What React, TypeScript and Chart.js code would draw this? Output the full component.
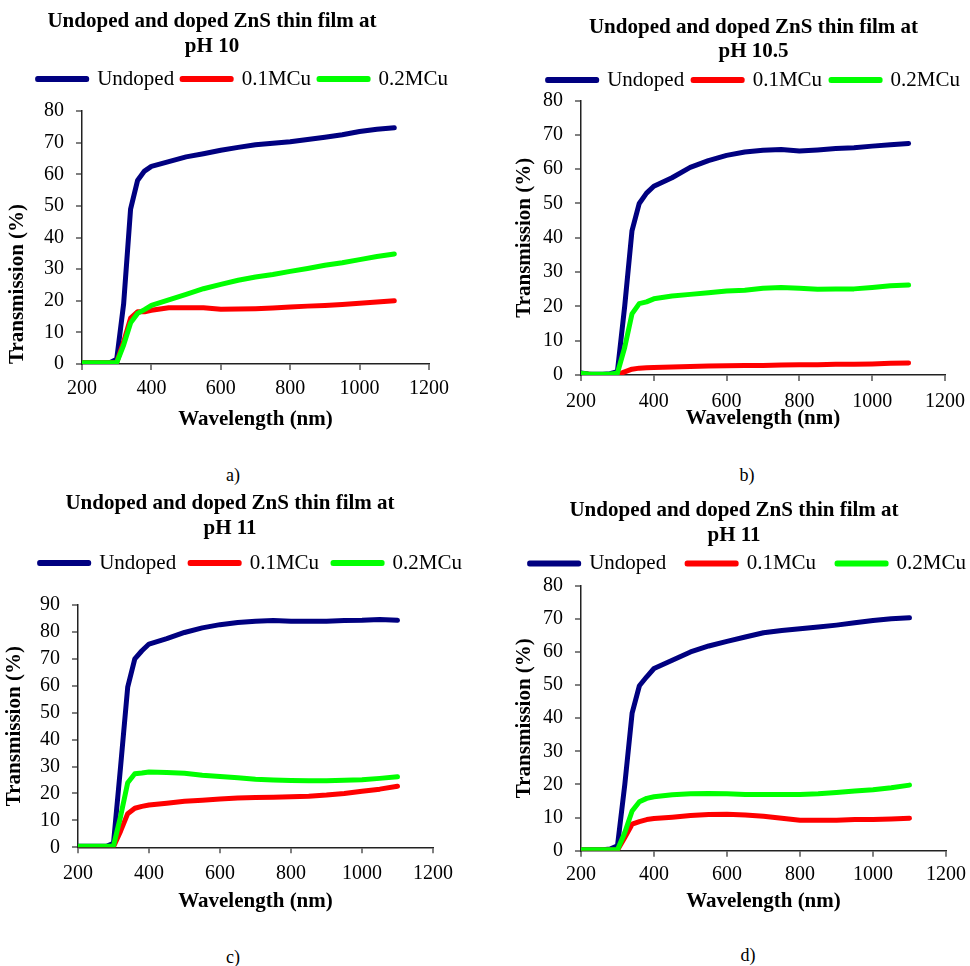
import React, { useEffect, useRef } from "react";
import { Chart, registerables } from "chart.js";

Chart.register(...registerables);

const FONT = "'Liberation Serif', 'Times New Roman', Times, serif";

// ---------------- data ----------------
const WAVELENGTH_NM = [200, 220, 240, 260, 280, 300, 320, 340, 360, 380, 400, 450, 500, 550, 600, 650, 700, 750, 800, 850, 900, 950, 1000, 1050, 1100];

const SERIES_NAMES = ["Undoped", "0.1MCu", "0.2MCu"];
const SERIES_COLORS = ["#000080", "#FF0000", "#00FF00"];

// pH 10
const UNDOPED_PH10 = [0.4, 0.4, 0.4, 0.4, 0.4, 1.5, 19, 49, 58, 61, 62.5, 64, 65.5, 66.5, 67.6, 68.5, 69.3, 69.8, 70.3, 71, 71.7, 72.5, 73.5, 74.2, 74.7];
const CU01_PH10 = [0.4, 0.4, 0.4, 0.4, 0.4, 0.5, 7, 14.5, 16.5, 16.5, 17, 17.8, 17.8, 17.8, 17.3, 17.4, 17.5, 17.7, 18, 18.3, 18.5, 18.8, 19.2, 19.6, 20];
const CU02_PH10 = [0.4, 0.4, 0.4, 0.4, 0.4, 0.4, 6, 13, 16, 17.2, 18.5, 20.3, 22, 23.8, 25.2, 26.5, 27.5, 28.3, 29.3, 30.2, 31.2, 32, 33, 34, 34.8];

// pH 10.5
const UNDOPED_PH105 = [0.6, 0.3, 0.2, 0.2, 0.4, 1.0, 20, 42, 50, 53, 55, 57.5, 60.5, 62.5, 64, 65, 65.5, 65.7, 65.3, 65.6, 66, 66.2, 66.7, 67.1, 67.5];
const CU01_PH105 = [0.3, 0.2, 0.1, 0.1, 0.1, 0.1, 0.9, 1.7, 2.0, 2.1, 2.2, 2.3, 2.5, 2.6, 2.7, 2.8, 2.8, 2.9, 3.0, 3.0, 3.1, 3.1, 3.2, 3.4, 3.5];
const CU02_PH105 = [0.5, 0.3, 0.2, 0.2, 0.3, 0.5, 8, 17.8, 20.8, 21.3, 22.2, 23, 23.5, 24, 24.5, 24.7, 25.3, 25.5, 25.3, 25, 25.1, 25.1, 25.5, 26, 26.2];

// pH 11 (c)
const UNDOPED_PH11C = [0.4, 0.4, 0.4, 0.4, 0.4, 1.5, 30, 59.5, 70, 73, 75.5, 77.5, 79.8, 81.5, 82.7, 83.5, 84, 84.2, 84, 84, 84, 84.2, 84.3, 84.6, 84.3];
const CU01_PH11C = [0.3, 0.3, 0.3, 0.3, 0.3, 0.2, 6, 12.5, 14.5, 15.2, 15.7, 16.4, 17.1, 17.5, 17.9, 18.3, 18.5, 18.6, 18.8, 19, 19.4, 20, 20.8, 21.6, 22.7];
const CU02_PH11C = [0.4, 0.4, 0.4, 0.4, 0.4, 0.5, 11.5, 24, 27.3, 27.6, 28, 27.8, 27.5, 26.8, 26.3, 25.8, 25.3, 25, 24.8, 24.7, 24.7, 24.9, 25.1, 25.6, 26.2];

// pH 11 (d)
const UNDOPED_PH11D = [0.3, 0.3, 0.3, 0.3, 0.5, 1.5, 20, 41.5, 49.8, 52.5, 55, 57.5, 60, 61.8, 63.2, 64.5, 65.8, 66.5, 67, 67.5, 68.1, 68.8, 69.5, 70, 70.3];
const CU01_PH11D = [0.2, 0.2, 0.2, 0.2, 0.2, 0.2, 4, 8, 8.8, 9.4, 9.7, 10.1, 10.6, 10.9, 11, 10.8, 10.4, 9.8, 9.2, 9.2, 9.2, 9.4, 9.4, 9.6, 9.8];
const CU02_PH11D = [0.3, 0.3, 0.3, 0.3, 0.3, 0.3, 5.5, 12, 14.8, 15.8, 16.3, 16.9, 17.2, 17.3, 17.2, 17, 17, 17, 17, 17.2, 17.6, 18, 18.4, 19, 19.8];

const PANEL_SERIES = [
  [UNDOPED_PH10, CU01_PH10, CU02_PH10],
  [UNDOPED_PH105, CU01_PH105, CU02_PH105],
  [UNDOPED_PH11C, CU01_PH11C, CU02_PH11C],
  [UNDOPED_PH11D, CU01_PH11D, CU02_PH11D],
];

const PANEL_TITLES = [
  ["Undoped and doped ZnS thin film at", "pH 10"],
  ["Undoped and doped ZnS thin film at", "pH 10.5"],
  ["Undoped and doped ZnS thin film at", "pH 11"],
  ["Undoped and doped ZnS thin film at", "pH 11"],
];
const PANEL_CAPTIONS = ["a)", "b)", "c)", "d)"];
const Y_MAX = [80, 80, 90, 80];
const Y_MIN = 0;
const Y_STEP = 10;
const X_MIN = 200;
const X_MAX = 1200;
const X_STEP = 200;
const X_AXIS_TITLE = "Wavelength (nm)";
const Y_AXIS_TITLE = "Transmission (%)";

// ---------------- layout (positions only) ----------------
type PanelLayout = {
  cx: number; cy: number; w: number; h: number; padL: number;
  yWidth: number; yTitlePad: number; yTitleAlign: "start" | "center" | "end";
  xPadRight: number; xHeight: number; xTickPad: number;
  titlePadTop: number; titlePadBottom: number; legendPad: number; spacer: number;
  capX: number; capY: number;
};

const LAYOUTS: PanelLayout[] = [
  { cx: -32, cy: 0, w: 488, h: 436, padL: 0, yWidth: 114, yTitlePad: 37.4, yTitleAlign: "start", xPadRight: 27, xHeight: 72, xTickPad: 7, titlePadTop: 9.7, titlePadBottom: 1.66, legendPad: 8, spacer: 11.5, capX: 233, capY: 475 },
  { cx: 505, cy: 0, w: 464, h: 435, padL: 33, yWidth: 43, yTitlePad: -25.6, yTitleAlign: "center", xPadRight: 24, xHeight: 60, xTickPad: 8.5, titlePadTop: 15, titlePadBottom: -3.64, legendPad: 9, spacer: 0, capX: 747, capY: 475 },
  { cx: -16, cy: 480, w: 492, h: 438, padL: 0, yWidth: 94, yTitlePad: 18.4, yTitleAlign: "center", xPadRight: 43, xHeight: 70.7, xTickPad: 8.2, titlePadTop: 11.7, titlePadBottom: -2.34, legendPad: 14, spacer: 21.5, capX: 233, capY: 957 },
  { cx: 481, cy: 480, w: 506, h: 438, padL: 0, yWidth: 100, yTitlePad: 31.4, yTitleAlign: "center", xPadRight: 41, xHeight: 67.3, xTickPad: 6.3, titlePadTop: 18.7, titlePadBottom: -15.84, legendPad: 21, spacer: 1.7, capX: 748, capY: 955 },
];

const plainNumber = (v: any) => String(v);

function Panel({ index }: { index: number }) {
  const ref = useRef<HTMLCanvasElement | null>(null);
  const L = LAYOUTS[index];

  useEffect(() => {
    if (!ref.current) return;
    const series = PANEL_SERIES[index];
    const datasets = series.map((vals, k) => ({
      label: SERIES_NAMES[k],
      data: WAVELENGTH_NM.map((x, i) => ({ x, y: vals[i] })),
      borderColor: SERIES_COLORS[k],
      backgroundColor: SERIES_COLORS[k],
      borderWidth: 5,
      pointRadius: 0,
      pointHoverRadius: 0,
      tension: 0,
      fill: false,
      borderCapStyle: "round" as const,
      borderJoinStyle: "round" as const,
      order: 3 - k,
    }));

    const chart = new Chart(ref.current, {
      type: "line",
      data: { datasets },
      options: {
        responsive: false,
        devicePixelRatio: 1,
        animation: false,
        layout: { padding: { left: L.padL, right: 0, top: 0, bottom: 0 } },
        plugins: {
          tooltip: { enabled: false },
          title: {
            display: true,
            text: PANEL_TITLES[index],
            color: "#000",
            font: { family: FONT, size: 21, weight: "bold", lineHeight: 1.17 },
            padding: { top: L.titlePadTop, bottom: L.titlePadBottom },
          },
          subtitle: {
            display: L.spacer > 1.2,
            text: "",
            position: "top",
            weight: 500,
            font: { family: FONT, size: 1, lineHeight: 1.2 },
            padding: { top: Math.max(L.spacer - 1.2, 0), bottom: 0 },
          },
          legend: {
            display: true,
            position: "top",
            align: "end",
            labels: {
              boxWidth: 49,
              boxHeight: 1,
              padding: L.legendPad,
              color: "#000",
              font: { family: FONT, size: 21 },
              sort: (a: any, b: any) => a.datasetIndex - b.datasetIndex,
            },
          },
        },
        scales: {
          x: {
            type: "linear",
            min: X_MIN,
            max: X_MAX,
            ticks: {
              stepSize: X_STEP,
              autoSkip: false,
              maxRotation: 0,
              padding: L.xTickPad,
              color: "#000",
              font: { family: FONT, size: 20 },
              callback: plainNumber,
            },
            grid: { display: true, drawOnChartArea: false, drawTicks: true, tickLength: 6, color: "#808080", lineWidth: 2 },
            border: { display: true, color: "#222", width: 1.5 },
            title: {
              display: true,
              text: X_AXIS_TITLE,
              color: "#000",
              font: { family: FONT, size: 21, weight: "bold", lineHeight: 1.2 },
              padding: { top: 4, bottom: 4 },
            },
            afterFit: (scale: any) => {
              scale.height = L.xHeight;
              scale.paddingLeft = 0;
              scale.paddingRight = L.xPadRight;
            },
          },
          y: {
            type: "linear",
            min: Y_MIN,
            max: Y_MAX[index],
            ticks: {
              stepSize: Y_STEP,
              autoSkip: false,
              padding: 12,
              color: "#000",
              font: { family: FONT, size: 20 },
              callback: plainNumber,
            },
            grid: { display: true, drawOnChartArea: false, drawTicks: true, tickLength: 6, color: "#808080", lineWidth: 2 },
            border: { display: true, color: "#222", width: 1.5 },
            title: {
              display: true,
              text: Y_AXIS_TITLE,
              align: L.yTitleAlign,
              color: "#000",
              font: { family: FONT, size: 21, weight: "bold", lineHeight: 1.2 },
              padding: { top: L.yTitlePad, bottom: 0 },
            },
            afterFit: (scale: any) => {
              scale.width = L.yWidth;
              scale.paddingTop = 0;
              scale.paddingBottom = 0;
            },
          },
        },
      } as any,
    });
    return () => chart.destroy();
  }, [index]);

  return (
    <>
      <canvas
        ref={ref}
        width={L.w}
        height={L.h}
        style={{ position: "absolute", left: L.cx, top: L.cy, width: L.w, height: L.h }}
      />
      <div
        style={{
          position: "absolute",
          left: L.capX - 30,
          top: L.capY - 11,
          width: 60,
          lineHeight: "22px",
          textAlign: "center",
          fontFamily: FONT,
          fontSize: 18,
          color: "#000",
        }}
      >
        {PANEL_CAPTIONS[index]}
      </div>
    </>
  );
}

export default function App() {
  return (
    <div
      style={{
        position: "absolute",
        left: 0,
        top: 0,
        width: 970,
        height: 966,
        overflow: "hidden",
        background: "#fff",
      }}
    >
      {[0, 1, 2, 3].map((i) => (
        <Panel key={i} index={i} />
      ))}
    </div>
  );
}
